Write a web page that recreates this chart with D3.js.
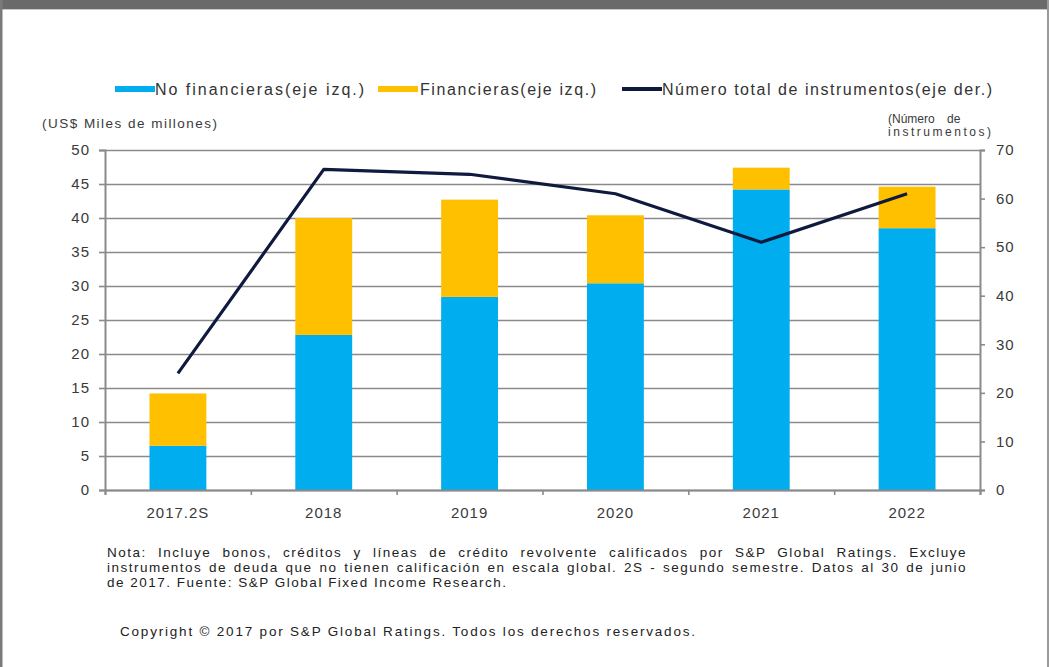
<!DOCTYPE html>
<html>
<head>
<meta charset="utf-8">
<script src="https://cdn.jsdelivr.net/npm/d3@7"></script>
<style>
  body { margin: 0; background: #fff; }
  svg { display: block; font-family: "Liberation Sans", Arial, sans-serif; }
</style>
</head>
<body>
<div id="chart"></div>
<script>
// values
const categories = ["2017.2S", "2018", "2019", "2020", "2021", "2022"];
const noFinancieras = [6.5, 22.8, 28.4, 30.4, 44.2, 38.5];
const financieras = [7.7, 17.2, 14.3, 10.0, 3.2, 6.1];
const instrumentos = [24, 66, 65, 61, 51, 61];
const leftTicks = [0, 5, 10, 15, 20, 25, 30, 35, 40, 45, 50];
const rightTicks = [0, 10, 20, 30, 40, 50, 60, 70];

const legendItems = [
  {label: "No financieras(eje izq.)", color: "#00aeef", kind: "bar"},
  {label: "Financieras(eje izq.)", color: "#ffc000", kind: "bar"},
  {label: "Número total de instrumentos(eje der.)", color: "#0e1a3e", kind: "line"}
];
const noteLines = [
  "Nota: Incluye bonos, créditos y líneas de crédito revolvente calificados por S&P Global Ratings. Excluye",
  "instrumentos de deuda que no tienen calificación en escala global. 2S - segundo semestre. Datos al 30 de junio",
  "de 2017. Fuente: S&P Global Fixed Income Research."
];
const copyrightText = "Copyright © 2017 por S&P Global Ratings. Todos los derechos reservados.";

var width = 1049,
    height = 667;

var plot = {left: 105, right: 980, top: 150, bottom: 490};

var svg = d3.select("#chart").append("svg")
    .attr("width", width)
    .attr("height", height);

// frame of the screenshot
svg.append("rect").attr("x", 0).attr("y", 0).attr("width", width).attr("height", 9).attr("fill", "#6a6a6a");
svg.append("rect").attr("x", 0).attr("y", 9).attr("width", width).attr("height", 1).attr("fill", "#c8c8c8");
svg.append("rect").attr("x", 0).attr("y", 0).attr("width", 2.5).attr("height", height).attr("fill", "#7a7a7a");
svg.append("rect").attr("x", width - 2).attr("y", 0).attr("width", 2).attr("height", height).attr("fill", "#9a9a9a");

const x = d3.scaleBand()
    .domain(categories)
    .range([plot.left, plot.right])
    .paddingInner(0.61)
    .paddingOuter(0.305);

const y = d3.scaleLinear().domain([0, 50]).range([plot.bottom, plot.top]);
const y2 = d3.scaleLinear().domain([0, 70]).range([plot.bottom, plot.top]);

// gridlines
svg.append("g")
    .attr("transform", `translate(${plot.left},0)`)
    .call(d3.axisLeft(y).tickValues(leftTicks).tickSize(-(plot.right - plot.left)).tickFormat(""))
    .call(g => g.select(".domain").remove())
    .call(g => g.selectAll("line").attr("stroke", "#8a8a8a").attr("stroke-width", 1.6));

// stacked bars
const table = categories.map((c, i) => ({cat: c, nof: noFinancieras[i], fin: financieras[i]}));
const stack = d3.stack().keys(["nof", "fin"])(table);
const barColors = {nof: "#00aeef", fin: "#ffc000"};

svg.append("g")
  .selectAll("g")
  .data(stack)
  .join("g")
    .attr("fill", d => barColors[d.key])
  .selectAll("rect")
  .data(d => d)
  .join("rect")
    .attr("x", d => x(d.data.cat))
    .attr("width", x.bandwidth())
    .attr("y", d => y(d[1]))
    .attr("height", d => y(d[0]) - y(d[1]));

// axes
const leftAxis = svg.append("g")
    .attr("transform", `translate(${plot.left},0)`)
    .call(d3.axisLeft(y).tickValues(leftTicks).tickSize(6).tickPadding(9));

const rightAxis = svg.append("g")
    .attr("transform", `translate(${plot.right},0)`)
    .call(d3.axisRight(y2).tickValues(rightTicks).tickSize(5).tickPadding(11));

const bottomTicks = d3.scaleLinear().domain([0, categories.length]).range([plot.left, plot.right]);
const bottomAxis = svg.append("g")
    .attr("transform", `translate(0,${plot.bottom})`)
    .call(d3.axisBottom(bottomTicks).ticks(categories.length).tickSize(5).tickFormat(""));

const catAxis = svg.append("g")
    .attr("transform", `translate(0,${plot.bottom})`)
    .call(d3.axisBottom(x).tickSize(0).tickPadding(17));
catAxis.select(".domain").remove();

[leftAxis, rightAxis, bottomAxis].forEach(g => {
  g.select(".domain").attr("stroke", "#8a8a8a").attr("stroke-width", 2);
  g.selectAll(".tick line").attr("stroke", "#8a8a8a").attr("stroke-width", 1.6);
});
[leftAxis, rightAxis, catAxis].forEach(g => {
  g.selectAll("text")
      .attr("fill", "#3a3a3a")
      .style("font-size", "15px")
      .style("letter-spacing", "1px")
      .style("font-family", "'Liberation Sans', Arial, sans-serif");
});

// instrument count line
const line = d3.line()
    .x((d, i) => x(categories[i]) + x.bandwidth() / 2)
    .y(d => y2(d));

svg.append("path")
    .datum(instrumentos)
    .attr("fill", "none")
    .attr("stroke", "#0e1a3e")
    .attr("stroke-width", 3.2)
    .attr("stroke-linejoin", "round")
    .attr("d", line);

// axis titles
svg.append("text")
    .attr("x", 42).attr("y", 128)
    .attr("fill", "#3a3a3a")
    .style("font-size", "13.5px")
    .attr("textLength", 175)
    .attr("lengthAdjust", "spacing")
    .text("(US$ Miles de millones)");

svg.append("text")
    .attr("x", 888).attr("y", 123)
    .attr("fill", "#3a3a3a")
    .style("font-size", "12px")
    .style("word-spacing", "9px")
    .text("(Número de");
svg.append("text")
    .attr("x", 888).attr("y", 136)
    .attr("fill", "#3a3a3a")
    .style("font-size", "12px")
    .attr("textLength", 103)
    .attr("lengthAdjust", "spacing")
    .text("instrumentos)");

// legend
const legendPos = [
  {sx: 115, tx: 155, tw: 209},
  {sx: 378, tx: 420, tw: 176},
  {sx: 622, tx: 662, tw: 330}
];
const legend = svg.append("g")
  .selectAll("g")
  .data(legendItems)
  .join("g");
legend.append("line")
    .attr("x1", (d, i) => legendPos[i].sx)
    .attr("x2", (d, i) => legendPos[i].sx + 40)
    .attr("y1", 89).attr("y2", 89)
    .attr("stroke", d => d.color)
    .attr("stroke-width", d => d.kind === "bar" ? 6 : 4);
legend.append("text")
    .attr("x", (d, i) => legendPos[i].tx)
    .attr("y", 95)
    .attr("fill", "#333")
    .style("font-size", "16px")
    .attr("textLength", (d, i) => legendPos[i].tw)
    .attr("lengthAdjust", "spacing")
    .text(d => d.label);

// note, justified
const noteWidth = 860;
const note = svg.append("g")
  .selectAll("text")
  .data(noteLines)
  .join("text")
    .attr("x", 107)
    .attr("y", (d, i) => 557 + i * 15)
    .attr("fill", "#222")
    .style("font-size", "13.5px")
    .style("letter-spacing", "1.5px")
    .text(d => d);
note.each(function(d, i) {
  if (i === noteLines.length - 1) return;
  const w = this.getComputedTextLength();
  const spaces = d.split(" ").length - 1;
  d3.select(this).style("word-spacing", ((noteWidth - w) / spaces) + "px");
});

svg.append("text")
    .attr("x", 120).attr("y", 636)
    .attr("fill", "#222")
    .style("font-size", "13.5px")
    .attr("textLength", 575)
    .attr("lengthAdjust", "spacing")
    .text(copyrightText);
</script>
</body>
</html>
